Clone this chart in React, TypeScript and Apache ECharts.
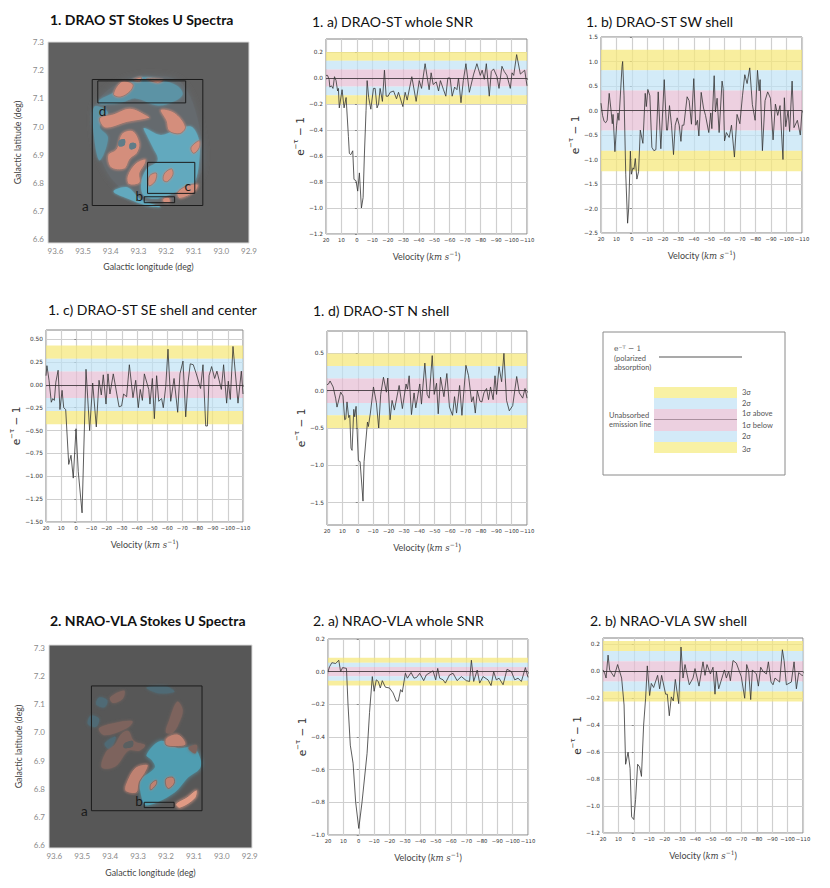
import React, { useEffect, useRef } from "react";
import * as echarts from "echarts";

type Knot = [number, number];

// spectra, [velocity, e^-tau - 1]
const drao_whole: Knot[] = [[20,.02],[19,.02],[18,-.01],[17.5,-.07],[16.5,-.06],[15.5,-.08],[14.5,.01],[13.5,-.02],[12.5,-.1],[12,-.08],[11.4,-.23],[9.6,-.09],[8.3,-.23],[7,-.15],[5.5,-.45],[4.9,-.58],[4,-.59],[2.7,-.56],[1.9,-.78],[.6,-.79],[-.5,-.87],[-1.6,-.73],[-2.9,-1],[-4,-.92],[-4.8,-.6],[-5.9,-.25],[-6.6,-.02],[-7.6,-.15],[-9,-.24],[-10.7,-.08],[-11.8,-.08],[-13,-.23],[-14,-.2],[-15,-.08],[-16.5,-.18],[-17.8,.06],[-18.9,-.14],[-20.2,-.14],[-21.5,-.11],[-23.7,-.1],[-25.6,-.16],[-26.9,-.11],[-29.7,-.22],[-31.2,-.11],[-32.5,-.17],[-35.5,.01],[-38.3,-.18],[-40.3,-.02],[-41.8,-.08],[-44.1,.11],[-46.7,-.09],[-48,.04],[-49.3,-.05],[-51.3,-.03],[-52.8,-.1],[-54,-.02],[-56,-.09],[-57.5,-.14],[-58.8,0],[-60.3,0],[-61.6,-.14],[-63.2,-.07],[-64.7,-.09],[-65.7,0],[-67.3,-.19],[-68.8,-.02],[-70.5,.11],[-72.7,-.11],[-75.5,.03],[-77.6,.11],[-79.8,.02],[-81,.06],[-82.4,-.01],[-83.7,.11],[-85.6,-.14],[-86.9,.05],[-88.4,.07],[-90.6,.01],[-91.9,-.08],[-93.8,.09],[-95.3,.05],[-97,.02],[-99.2,-.08],[-100.3,.04],[-101.4,.02],[-103.3,.18],[-105.7,.03],[-108.5,.06],[-110,-.06]];
const drao_sw: Knot[] = [[20,.15],[19,-.1],[18,-.22],[17,-.25],[16,-.2],[14.7,.35],[13.5,0],[12.7,-.27],[12.2,-.08],[11,-.84],[9.9,-.3],[9,-.05],[8.4,-.2],[6.4,.9],[6,1],[5.1,.3],[4,-1.3],[2.8,-2.3],[2.1,-2],[1,-.83],[.4,-1.3],[-.7,-1.17],[-1.3,-1.2],[-2.2,-.98],[-3.2,-1.4],[-4.3,-1.25],[-5.4,-.4],[-7.1,-.67],[-8.6,.35],[-9.3,.08],[-10.3,.43],[-11.6,.3],[-12.9,-.75],[-14.2,-.82],[-15.5,-.8],[-17,.38],[-18.7,-.78],[-20.9,.63],[-22.4,-.4],[-23,-.4],[-24.3,.1],[-25.6,-.3],[-26.9,-.9],[-28,-.3],[-29.3,-.15],[-30.6,-.3],[-31.7,-.63],[-32.5,-.3],[-33.6,-.3],[-35.7,.28],[-37,.2],[-38.5,-.28],[-40,.65],[-41.3,-.3],[-42.4,-.2],[-43.3,-.52],[-44.8,.37],[-46.3,.05],[-47.6,-.1],[-49.7,-.45],[-51,-.05],[-51.7,-.37],[-53.2,.71],[-54,-.03],[-55.1,.25],[-56.4,-.45],[-58.3,.6],[-59,.45],[-59.9,-.62],[-61.1,-.45],[-62.9,-.55],[-64.4,-.3],[-66.3,-.95],[-68,-.08],[-69.8,-.27],[-71.5,.3],[-73,.73],[-74.5,.55],[-76.2,.87],[-77.9,.12],[-79.7,-.2],[-81.2,.82],[-82.3,.4],[-82.9,.63],[-84.4,-.82],[-86.1,.2],[-87.8,.38],[-89.6,.25],[-91.3,-.6],[-92.8,.13],[-94.3,-.1],[-95.8,.1],[-97.7,-1],[-98.6,.26],[-99.5,-.33],[-101,0],[-102,-.43],[-103.6,.6],[-104.8,-.35],[-107,-.2],[-108.9,-.5],[-110,0]];
const drao_se: Knot[] = [[20,.1],[19.4,.21],[18,.05],[16.5,-.19],[15.5,-.15],[14.5,-.17],[13.5,.03],[12,.16],[10.8,-.27],[9.4,-.06],[8.3,-.25],[7,-.27],[5,-.87],[3.5,-.77],[2,-1.02],[.2,-.48],[-1.3,-.95],[-3.8,-1.4],[-6.4,.17],[-8.8,-.5],[-10.8,.02],[-13.2,-.46],[-15,.05],[-16.5,-.11],[-17.8,.11],[-19.6,-.21],[-20.9,.12],[-22.2,-.1],[-24.4,.12],[-28.2,-.24],[-29.9,-.23],[-31.2,-.1],[-33.2,-.13],[-35,.22],[-37.4,-.14],[-39.2,.05],[-40.9,-.25],[-42.2,-.05],[-43.6,-.17],[-44.9,.12],[-47.8,-.05],[-48.6,-.21],[-50.2,.07],[-51.5,-.37],[-53,.1],[-54.4,-.18],[-56.3,-.15],[-57.4,-.25],[-59,-.02],[-60.5,.39],[-62.3,-.18],[-64.5,.07],[-66.9,-.3],[-68.4,.12],[-70.4,.26],[-72.2,-.35],[-73.7,.02],[-75.2,.23],[-77.2,.22],[-79.2,.12],[-82,-.04],[-83.6,.22],[-85.4,-.45],[-86.5,-.45],[-87.6,.1],[-89.3,.2],[-91.3,.07],[-92.8,.15],[-95.7,-.05],[-97.2,.22],[-99.2,-.2],[-100.3,.04],[-101.6,-.16],[-103.4,.42],[-106.7,-.2],[-108.9,.15],[-110,-.1]];
const drao_n: Knot[] = [[20,.08],[19,.09],[18,.13],[16,.05],[14.4,-.1],[13.5,-.22],[11.1,-.02],[9.6,-.07],[8.5,-.39],[7.8,-.38],[7,-.15],[5.9,-.36],[5.2,-.33],[4.4,-.77],[3.7,-.8],[2.6,-.25],[2,-.35],[1.1,-.21],[-.4,-.94],[-1.5,-.95],[-3.4,-1.48],[-4.1,-.95],[-6.3,-.42],[-6.9,-.48],[-8.2,-.3],[-10.2,.05],[-12.1,-.16],[-13.6,-.5],[-14.9,-.05],[-16.7,.18],[-18.6,-.02],[-19.5,.17],[-21,-.39],[-22.3,-.13],[-23.8,-.26],[-26.9,.07],[-29,-.24],[-31.4,.09],[-32.3,.02],[-33.4,.2],[-34.9,-.32],[-36.6,-.03],[-37.7,-.23],[-40.3,.09],[-41.4,-.18],[-43.6,.37],[-45.1,-.05],[-46.4,-.1],[-48.4,.47],[-49.7,-.05],[-51.2,.1],[-52.3,-.31],[-53.8,.18],[-56,-.08],[-57.9,.23],[-59.6,-.22],[-61.6,-.33],[-62.9,-.08],[-64.2,-.3],[-66.2,.07],[-67.7,-.33],[-70.3,.34],[-72,.2],[-74,-.15],[-75.1,-.08],[-76.4,-.3],[-77.7,0],[-79.4,-.14],[-80.7,-.15],[-82,-.03],[-83.7,.03],[-85,-.12],[-86.3,.05],[-88,-.12],[-89.2,.2],[-90.2,-.05],[-91.8,.32],[-93.5,.12],[-95,.5],[-96.7,-.13],[-98.5,-.27],[-100.7,-.2],[-103.3,.19],[-105,-.03],[-107.2,-.1],[-108.7,.03],[-110,-.1]];
const vla_whole: Knot[] = [[20,0],[19,.03],[17.5,.055],[15,.05],[13,.07],[11.8,0],[10.5,.025],[8,.02],[7,-.2],[5.5,-.45],[3.7,-.56],[2,-.8],[0,-.96],[-2.1,-.8],[-5.4,-.5],[-7,-.25],[-8.8,-.03],[-10,-.12],[-11.4,-.05],[-12.7,-.06],[-14,-.1],[-15.3,-.055],[-17.3,-.095],[-20,-.1],[-22.3,-.13],[-24.4,-.18],[-25.7,-.18],[-27.2,-.11],[-28.3,-.125],[-30.3,-.01],[-31.6,-.04],[-34,-.005],[-35.9,-.04],[-37.6,-.035],[-39.6,-.01],[-42.2,-.055],[-43.9,-.02],[-46.5,-.005],[-48.3,.005],[-50,-.05],[-51.3,.02],[-52.6,-.04],[-54.8,-.05],[-56.3,-.07],[-59,-.02],[-61.3,-.01],[-63.9,-.055],[-66.7,-.03],[-69.9,-.055],[-72,-.06],[-73.2,.07],[-74.7,-.06],[-77,.01],[-78.6,-.07],[-80.8,-.03],[-84,-.05],[-86,-.085],[-87.7,0],[-89.4,-.05],[-91.2,-.04],[-93.8,-.08],[-96.4,.015],[-99.2,0],[-101.4,-.05],[-103.5,-.04],[-105.7,-.06],[-108.3,.025],[-110,-.035]];
const vla_sw: Knot[] = [[20,.01],[19,-.01],[18,-.05],[16.7,.12],[15.7,.01],[14,-.02],[12.8,-.04],[10.5,.05],[7.9,-.05],[6.3,-.25],[5.3,-.69],[3.7,-.6],[2.4,-.72],[1.4,-1.08],[0,-1.1],[-1.2,-.95],[-2.5,-.69],[-3.8,-.71],[-5,-.78],[-6.4,-.4],[-7.7,-.2],[-8.8,.04],[-10.3,-.18],[-11.4,-.09],[-12.9,-.12],[-15.5,-.03],[-16.8,-.13],[-18.1,-.03],[-20.7,-.17],[-21.8,-.17],[-23.1,-.33],[-24.4,-.19],[-25.7,-.22],[-27,-.06],[-29.2,-.24],[-30.7,.18],[-32,-.05],[-33.3,.05],[-36.1,-.1],[-38.5,-.05],[-39.8,.02],[-42.4,-.11],[-45,.07],[-46.3,-.03],[-47.6,.05],[-49.8,-.02],[-51.5,.03],[-52.8,-.17],[-53.7,0],[-55.2,-.13],[-58.9,.01],[-60.2,-.05],[-61.7,0],[-62.8,-.07],[-64.5,.08],[-66.7,.06],[-69.9,-.04],[-72.1,-.2],[-73.4,.05],[-74.7,0],[-76,-.21],[-77.1,.01],[-79.7,-.02],[-81,-.11],[-82.5,.03],[-84,0],[-86.2,-.02],[-87.5,.07],[-89.2,-.08],[-90.5,-.1],[-91.8,-.05],[-94.8,-.08],[-96.6,.16],[-97.7,.08],[-99.2,-.1],[-102.4,-.08],[-104.2,.07],[-105.7,-.13],[-107.2,-.01],[-109.3,-.03],[-110,-.03]];

// ticks
const velTicks = [20,10,0,-10,-20,-30,-40,-50,-60,-70,-80,-90,-100,-110];
const ticks_drao_whole = [-1.2,-1,-.8,-.6,-.4,-.2,0,.2];
const ticks_drao_sw = [-2.5,-2,-1.5,-1,-.5,0,.5,1,1.5];
const ticks_drao_se = [-1.5,-1.25,-1,-.75,-.5,-.25,0,.25,.5];
const ticks_drao_n = [-1.5,-1,-.5,0,.5];
const ticks_vla_whole = [-1,-.8,-.6,-.4,-.2,0,.2];
const ticks_vla_sw = [-1.2,-1,-.8,-.6,-.4,-.2,0,.2];

// 1, 2, 3 sigma levels of each panel
const sigma_drao_whole = [.066,.132,.2];
const sigma_drao_sw = [.41,.82,1.24];
const sigma_drao_se = [.145,.285,.43];
const sigma_drao_n = [.165,.33,.5];
const sigma_vla_whole = [.028,.055,.085];
const sigma_vla_sw = [.075,.15,.225];

const lonTicks = [92.9,93,93.1,93.2,93.3,93.4,93.5,93.6];
const latTicks = [6.6,6.7,6.8,6.9,7,7.1,7.2,7.3];

// map outlines in galactic lon/lat
const drao_disc: Knot[][] = [[[93.46,7.06],[93.38,7.15],[93.26,7.18],[93.14,7.15],[93.07,6.95],[93.08,6.82],[93.18,6.74],[93.3,6.74],[93.42,6.85]]];
const drao_blue_dim: Knot[][] = [
	[[93.39,7.12],[93.35,7.15],[93.29,7.175],[93.22,7.165],[93.16,7.145],[93.14,7.115],[93.17,7.09],[93.23,7.075],[93.31,7.1],[93.36,7.085],[93.44,7.08],[93.44,7.095]],
	[[93.46,7.07],[93.41,7.05],[93.44,7],[93.41,6.96],[93.44,6.88],[93.46,6.96]],
];
const drao_blue: Knot[][] = [
	[[93.28,6.995],[93.22,6.97],[93.17,6.985],[93.11,7],[93.08,6.95],[93.08,6.88],[93.09,6.82],[93.11,6.785],[93.17,6.765],[93.23,6.745],[93.28,6.755],[93.29,6.8],[93.27,6.85],[93.23,6.88],[93.25,6.93],[93.27,6.97]],
	[[93.39,6.77],[93.34,6.785],[93.29,6.74],[93.22,6.715],[93.27,6.72],[93.34,6.745]],
];
const drao_red: Knot[][] = [
	[[93.39,7.115],[93.36,7.16],[93.32,7.15],[93.33,7.125],[93.365,7.105]],
	[[93.32,7.165],[93.29,7.175],[93.295,7.16]],
	[[93.27,7.17],[93.21,7.165],[93.23,7.155]],
	[[93.44,7.03],[93.39,7.045],[93.33,7.065],[93.27,7.04],[93.26,7.03],[93.34,7.015],[93.42,6.995]],
	[[93.22,7.06],[93.17,7.05],[93.13,7],[93.15,6.975],[93.19,6.985],[93.2,7.02]],
	[[93.36,6.975],[93.32,6.985],[93.295,6.94],[93.305,6.905],[93.33,6.885],[93.35,6.85],[93.4,6.855],[93.41,6.9],[93.38,6.92]],
	[[93.34,6.825],[93.31,6.87],[93.275,6.885],[93.275,6.87],[93.295,6.835],[93.295,6.8],[93.335,6.795]],
	[[93.26,6.825],[93.235,6.835],[93.24,6.805],[93.262,6.79]],
	[[93.205,6.835],[93.18,6.85],[93.175,6.83],[93.195,6.805],[93.21,6.81]],
	[[93.16,6.765],[93.125,6.79],[93.085,6.795],[93.095,6.77],[93.15,6.745]],
	[[93.11,6.925],[93.08,6.95],[93.08,6.925],[93.1,6.905]],
	[[93.21,6.745],[93.19,6.748],[93.185,6.732],[93.21,6.732]],
];
const drao_holes: Knot[][] = [
	[[93.37,6.95],[93.35,6.955],[93.35,6.935],[93.37,6.93]],
	[[93.33,6.94],[93.31,6.94],[93.31,6.925],[93.33,6.92]],
];
const vla_blue_dim: Knot[][] = [
	[[93.44,7.125],[93.41,7.115],[93.42,7.09],[93.45,7.1]],
	[[93.47,7.06],[93.44,7.05],[93.45,7.02],[93.48,7.03]],
	[[93.42,6.96],[93.38,6.985],[93.4,6.94]],
	[[93.27,7.16],[93.2,7.165],[93.17,7.145],[93.23,7.14]],
];
const vla_blue: Knot[][] = [
	[[93.27,6.92],[93.22,6.97],[93.16,6.945],[93.1,6.945],[93.075,6.9],[93.08,6.87],[93.12,6.84],[93.17,6.785],[93.27,6.74],[93.29,6.78],[93.29,6.83],[93.24,6.875],[93.25,6.9]],
];
const vla_red_dim: Knot[][] = [
	[[93.36,6.995],[93.335,7.005],[93.315,6.97],[93.275,6.955],[93.295,6.935],[93.335,6.935],[93.38,6.88],[93.43,6.875],[93.415,6.93],[93.385,6.955]],
	[[93.2,7],[93.19,7.04],[93.16,7.11],[93.14,7.08],[93.155,7.03],[93.175,7]],
	[[93.4,7.125],[93.35,7.15],[93.355,7.12],[93.39,7.105]],
	[[93.44,7.015],[93.38,7.035],[93.32,7.04],[93.34,7.015],[93.42,6.99]],
	[[93.12,6.945],[93.09,6.955],[93.095,6.925]],
];
const vla_red: Knot[][] = [
	[[93.345,6.815],[93.31,6.875],[93.265,6.885],[93.275,6.855],[93.295,6.825],[93.305,6.785],[93.345,6.79]],
	[[93.255,6.815],[93.235,6.83],[93.235,6.815],[93.255,6.795]],
	[[93.2,6.835],[93.175,6.84],[93.17,6.82],[93.19,6.8],[93.2,6.81]],
	[[93.2,6.98],[93.16,6.995],[93.135,6.975],[93.13,6.955],[93.165,6.95],[93.2,6.955]],
];
const vla_red_hot: Knot[][] = [
	[[93.165,6.745],[93.125,6.77],[93.09,6.795],[93.095,6.765],[93.15,6.73]],
];
const vla_holes: Knot[][] = [
	[[93.35,6.96],[93.32,6.97],[93.32,6.95],[93.35,6.945]],
];

// lon0, lat0, lon1, lat1
const drao_boxes = [
	[93.467,7.167,93.067,6.72],
	[93.447,7.162,93.129,7.084],
	[93.267,6.873,93.096,6.763],
	[93.279,6.751,93.169,6.73],
];
const vla_boxes = [
	[93.467,7.166,93.071,6.721],
	[93.278,6.751,93.171,6.732],
];
const drao_letters: [string, number, number][] = [["a",93.492,6.72],["b",93.297,6.754],["c",93.122,6.789],["d",93.43,7.054]];
const vla_letters: [string, number, number][] = [["a",93.492,6.72],["b",93.297,6.754]];

const MINUS = "\u2212";
const BAND = { yellow: "rgba(245,232,120,0.72)", blue: "rgba(190,225,245,0.68)", pink: "rgba(228,185,210,0.68)" };
const SANS = "Lato, 'Open Sans', sans-serif";
const TICK = "'DejaVu Sans', sans-serif";

const velocityName = {
	name: "{v|Velocity (}{i|km s}{s|\u22121}{v|)}",
	nameLocation: "middle" as const,
	nameGap: 16,
	nameTextStyle: {
		rich: {
			v: { fontFamily: SANS, fontSize: 9, color: "#444", lineHeight: 13 },
			i: { fontFamily: "'DejaVu Serif', serif", fontStyle: "italic" as const, fontSize: 8.5, color: "#444", lineHeight: 13 },
			s: { fontFamily: "'DejaVu Serif', serif", fontSize: 6, color: "#444", verticalAlign: "top" as const, lineHeight: 13 },
		},
	},
};
const tauName = {
	name: "{e|e}{s|\u2212\u03c4}{e| \u2212 1}",
	nameLocation: "middle" as const,
	nameTextStyle: {
		rich: {
			e: { fontFamily: TICK, fontSize: 10.5, color: "#333", lineHeight: 15 },
			s: { fontFamily: TICK, fontSize: 7, color: "#333", verticalAlign: "top" as const, lineHeight: 15 },
		},
	},
};

function spectrumPanel(
	option: any,
	box: { left: number; top: number; right: number; bottom: number },
	data: Knot[],
	yRange: [number, number],
	yTicks: number[],
	sigma: number[],
	digits: number,
	nameGap: number
) {
	const idx = option.grid.length;
	option.grid.push({
		left: box.left,
		top: box.top,
		width: box.right - box.left,
		height: box.bottom - box.top,
		show: true,
		borderColor: "#808080",
		borderWidth: 1,
		backgroundColor: "#fff",
	});
	option.xAxis.push({
		gridIndex: idx,
		type: "value",
		inverse: true,
		min: -110,
		max: 20,
		...velocityName,
		axisLine: { show: false },
		axisTick: { length: 2, lineStyle: { color: "#555", width: 0.6 }, customValues: velTicks },
		axisLabel: {
			fontFamily: TICK,
			fontSize: 5.3,
			color: "#333",
			margin: 3,
			hideOverlap: false,
			showMinLabel: true,
			showMaxLabel: true,
			customValues: velTicks,
			formatter: (v: number) => String(v).replace("-", MINUS),
		},
		splitLine: { show: true, lineStyle: { color: "#cfcfcf", width: 1.2 } },
	});
	option.yAxis.push({
		gridIndex: idx,
		type: "value",
		min: yRange[0],
		max: yRange[1],
		...tauName,
		nameGap,
		axisLine: { show: false },
		axisTick: { length: 2, lineStyle: { color: "#555", width: 0.6 }, customValues: yTicks },
		axisLabel: {
			fontFamily: TICK,
			fontSize: 5.8,
			color: "#333",
			margin: 3,
			customValues: yTicks,
			formatter: (v: number) => v.toFixed(digits).replace("-", MINUS),
		},
		splitLine: { show: true, lineStyle: { color: "#cfcfcf", width: 1.2 } },
	});
	const [s1, s2, s3] = sigma;
	const band = (a: number, b: number, color: string) => [
		{ yAxis: a, itemStyle: { color } },
		{ yAxis: b },
	];
	option.series.push({
		type: "line",
		xAxisIndex: idx,
		yAxisIndex: idx,
		data,
		showSymbol: false,
		symbol: "none",
		silent: true,
		z: 5,
		lineStyle: { color: "#333", width: 0.8 },
		markArea: {
			silent: true,
			z: 1,
			data: [
				band(s2, s3, BAND.yellow),
				band(s1, s2, BAND.blue),
				band(-s1, s1, BAND.pink),
				band(-s2, -s1, BAND.blue),
				band(-s3, -s2, BAND.yellow),
			],
		},
		markLine: {
			silent: true,
			symbol: "none",
			label: { show: false },
			lineStyle: { color: "#554a50", width: 1, type: "solid" },
			data: [{ yAxis: 0 }],
		},
	});
}

type MapLayer = { outlines: Knot[][]; fill: string; blur: number; rim?: string };

function mapPanel(
	option: any,
	box: { left: number; top: number; right: number; bottom: number },
	lonRange: [number, number],
	latRange: [number, number],
	layers: MapLayer[],
	boxes: number[][],
	letters: [string, number, number][],
	background: string,
	nameGap: number
) {
	const idx = option.grid.length;
	option.grid.push({
		left: box.left,
		top: box.top,
		width: box.right - box.left,
		height: box.bottom - box.top,
		show: true,
		backgroundColor: background,
		borderColor: "#dcdcdc",
		borderWidth: 1,
	});
	const mapLabel = { fontFamily: SANS, fontSize: 8, color: "#8a8a8a", margin: 4, formatter: (v: number) => v.toFixed(1) };
	option.xAxis.push({
		gridIndex: idx,
		type: "value",
		inverse: true,
		min: lonRange[0],
		max: lonRange[1],
		name: "Galactic longitude (deg)",
		nameLocation: "middle",
		nameGap,
		nameTextStyle: { fontFamily: SANS, fontSize: 8.8, color: "#444" },
		axisLine: { show: false },
		axisTick: { show: false, customValues: lonTicks },
		axisLabel: { ...mapLabel, customValues: lonTicks },
		splitLine: { show: false },
	});
	option.yAxis.push({
		gridIndex: idx,
		type: "value",
		min: latRange[0],
		max: latRange[1],
		name: "Galactic latitude (deg)",
		nameLocation: "middle",
		nameGap: 26,
		nameTextStyle: { fontFamily: SANS, fontSize: 8.8, color: "#444" },
		axisLine: { show: false },
		axisTick: { show: false, customValues: latTicks },
		axisLabel: { ...mapLabel, customValues: latTicks },
		splitLine: { show: false },
	});
	layers.forEach((layer) => {
		option.series.push({
			type: "custom",
			xAxisIndex: idx,
			yAxisIndex: idx,
			silent: true,
			data: layer.outlines.map((_, i) => [i]),
			renderItem: (params: any, api: any) => ({
				type: "polygon",
				shape: { points: layer.outlines[params.dataIndex].map((p) => api.coord(p)), smooth: 0.35 },
				style: {
					fill: layer.fill,
					shadowBlur: layer.blur,
					shadowColor: layer.fill,
					stroke: layer.rim || "none",
					lineWidth: layer.rim ? 1 : 0,
				},
			}),
		});
	});
	option.series.push({
		type: "custom",
		xAxisIndex: idx,
		yAxisIndex: idx,
		silent: true,
		z: 6,
		data: boxes.map((_, i) => [i]),
		renderItem: (params: any, api: any) => {
			const b = boxes[params.dataIndex];
			const p0 = api.coord([b[0], b[1]]);
			const p1 = api.coord([b[2], b[3]]);
			return {
				type: "rect",
				shape: { x: p0[0], y: p0[1], width: p1[0] - p0[0], height: p1[1] - p0[1] },
				style: { fill: "none", stroke: "#1c1c1c", lineWidth: 1 },
			};
		},
	});
	option.series.push({
		type: "custom",
		xAxisIndex: idx,
		yAxisIndex: idx,
		silent: true,
		z: 7,
		data: letters.map((_, i) => [i]),
		renderItem: (params: any, api: any) => {
			const [ch, lon, lat] = letters[params.dataIndex];
			const p = api.coord([lon, lat]);
			return {
				type: "text",
				x: p[0],
				y: p[1],
				style: { text: ch, fontFamily: SANS, fontSize: 13.5, fill: "#1a1a1a", align: "center", verticalAlign: "middle" },
			};
		},
	});
}

const titleText = (text: string, x: number, y: number, bold = false) => ({
	type: "text",
	x,
	y,
	style: {
		text,
		fontFamily: SANS,
		fontSize: 14,
		fontWeight: bold ? "bold" : "normal",
		fill: "#111",
		verticalAlign: "middle",
	},
});
const noteText = (text: string, x: number, y: number) => ({
	type: "text",
	x,
	y,
	style: { text, fontFamily: SANS, fontSize: 7.5, fill: "#555", verticalAlign: "middle" },
});
const bandRect = (y0: number, y1: number, fill: string) => ({
	type: "rect",
	shape: { x: 654, y: y0, width: 83, height: y1 - y0 },
	style: { fill },
});

const App: React.FC = () => {
	const chartRef = useRef<HTMLDivElement>(null);

	useEffect(() => {
		if (!chartRef.current) return;
		const chart = echarts.init(chartRef.current, undefined, { renderer: "svg" });

		const option: any = { animation: false, grid: [], xAxis: [], yAxis: [], series: [] };

		mapPanel(
			option,
			{ left: 48, top: 42, right: 249, bottom: 243 },
			[92.9, 93.627],
			[6.587, 7.3],
			[
				{ outlines: drao_disc, fill: "#656a6e", blur: 6 },
				{ outlines: drao_blue_dim, fill: "#5c93a5", blur: 3 },
				{ outlines: drao_blue, fill: "#62a9be", blur: 3 },
				{ outlines: drao_red, fill: "#d48e7c", blur: 2, rim: "rgba(105,105,105,0.55)" },
				{ outlines: drao_holes, fill: "#5f7c88", blur: 1 },
			],
			drao_boxes,
			drao_letters,
			"#606060",
			19
		);
		mapPanel(
			option,
			{ left: 49, top: 645, right: 252, bottom: 848 },
			[92.892, 93.619],
			[6.588, 7.312],
			[
				{ outlines: vla_blue_dim, fill: "#4f6a74", blur: 3 },
				{ outlines: vla_blue, fill: "#4f9db1", blur: 4 },
				{ outlines: vla_red_dim, fill: "#7d645d", blur: 3 },
				{ outlines: vla_red, fill: "#bf8272", blur: 2, rim: "rgba(90,90,90,0.55)" },
				{ outlines: vla_red_hot, fill: "#e09a84", blur: 3, rim: "rgba(90,90,90,0.55)" },
				{ outlines: vla_holes, fill: "#5a5f61", blur: 1 },
			],
			vla_boxes,
			vla_letters,
			"#575757",
			20
		);

		spectrumPanel(option, { left: 326, top: 39, right: 527, bottom: 234 }, drao_whole, [-1.2, 0.3], ticks_drao_whole, sigma_drao_whole, 1, 16);
		spectrumPanel(option, { left: 601, top: 37, right: 802, bottom: 233 }, drao_sw, [-2.5, 1.5], ticks_drao_sw, sigma_drao_sw, 1, 18);
		spectrumPanel(option, { left: 46, top: 330, right: 243, bottom: 522 }, drao_se, [-1.5, 0.6], ticks_drao_se, sigma_drao_se, 2, 13);
		spectrumPanel(option, { left: 327, top: 331, right: 527, bottom: 525 }, drao_n, [-1.8, 0.8], ticks_drao_n, sigma_drao_n, 1, 15);
		spectrumPanel(option, { left: 328, top: 639, right: 528, bottom: 835 }, vla_whole, [-1, 0.2], ticks_vla_whole, sigma_vla_whole, 1, 16);
		spectrumPanel(option, { left: 603, top: 638, right: 803, bottom: 833 }, vla_sw, [-1.2, 0.247], ticks_vla_sw, sigma_vla_sw, 1, 18);

		option.graphic = [
			titleText("1. DRAO ST Stokes U Spectra", 50, 19, true),
			titleText("1. a) DRAO-ST whole SNR", 312, 21),
			titleText("1. b) DRAO-ST SW shell", 586, 21),
			titleText("1. c) DRAO-ST SE shell and center", 48, 309),
			titleText("1. d) DRAO-ST N shell", 313, 310),
			titleText("2. NRAO-VLA Stokes U Spectra", 50, 620, true),
			titleText("2. a) NRAO-VLA whole SNR", 313, 620),
			titleText("2. b) NRAO-VLA SW shell", 590, 620),
			{ type: "rect", shape: { x: 603, y: 332, width: 182, height: 143 }, style: { fill: "#fff", stroke: "#8a8a8a", lineWidth: 1 } },
			{ type: "line", shape: { x1: 659, y1: 357, x2: 742, y2: 357 }, style: { stroke: "#555", lineWidth: 1.2 } },
			bandRect(387, 398, "#f8f1a4"),
			bandRect(398, 409, "#d3eaf8"),
			bandRect(409, 431, "#ecd0e0"),
			bandRect(431, 442, "#d3eaf8"),
			bandRect(442, 453, "#f8f1a4"),
			{ type: "line", shape: { x1: 654, y1: 419.5, x2: 737, y2: 419.5 }, style: { stroke: "#9a7f8e", lineWidth: 0.8 } },
			{ type: "text", x: 614, y: 348, style: { text: "e\u207b\u1d40 \u2212 1", fontFamily: "'DejaVu Serif', serif", fontSize: 7.5, fill: "#555", verticalAlign: "middle" } },
			noteText("(polarized", 614, 358),
			noteText("absorption)", 614, 367),
			noteText("Unabsorbed", 609, 415),
			noteText("emission line", 609, 424),
			noteText("3\u03c3", 742, 392),
			noteText("2\u03c3", 742, 403),
			noteText("1\u03c3 above", 742, 413),
			noteText("1\u03c3 below", 742, 425),
			noteText("2\u03c3", 742, 436),
			noteText("3\u03c3", 742, 449),
		];

		chart.setOption(option);
		return () => chart.dispose();
	}, []);

	return <div ref={chartRef} style={{ position: "absolute", left: 0, top: 0, width: 830, height: 888 }} />;
};

export default App;
